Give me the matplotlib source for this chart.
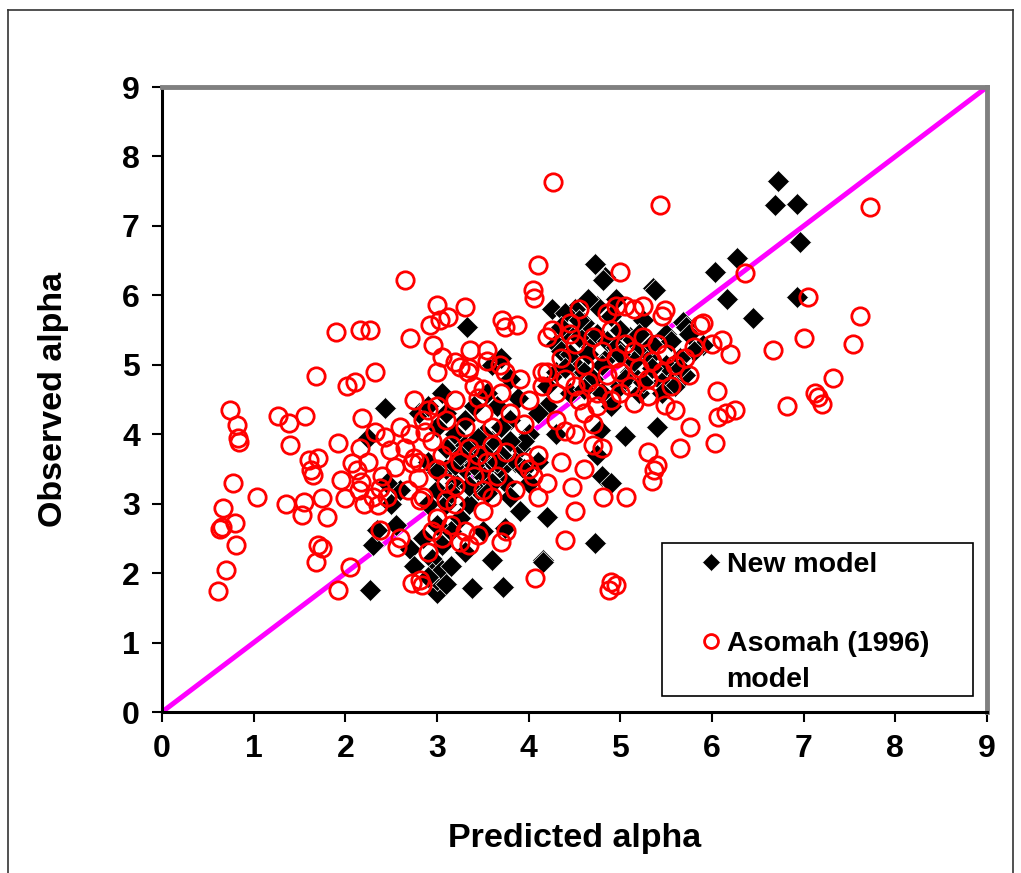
import matplotlib
matplotlib.use("Agg")
import matplotlib.pyplot as plt
from matplotlib.lines import Line2D
from matplotlib.patches import Rectangle

plt.rcParams['font.family'] = ['Liberation Sans', 'DejaVu Sans']
plt.rcParams['font.weight'] = 'bold'

# New model (black diamonds): predicted, observed
new_pred = [6.72, 6.69, 6.93, 6.96, 6.27, 6.03, 6.16, 6.45, 6.93, 5.36, 5.68, 5.72, 5.40, 5.05, 4.83,
            4.72, 4.81, 5.38, 5.90, 5.80, 5.65, 5.55, 5.45, 5.60, 5.70, 5.50, 5.30, 5.20, 5.10, 5.00,
            4.90, 4.75, 4.60, 4.50, 4.40, 4.30, 4.25, 4.35, 4.50, 4.60, 4.70, 4.80, 4.90, 5.00, 5.10,
            5.20, 4.85, 4.65, 4.55, 4.45, 4.30, 4.20, 4.10, 4.20, 4.00, 3.90, 3.85, 3.95, 3.80, 3.88,
            3.70, 3.70, 3.75, 3.80, 3.60, 3.60, 3.50, 3.50, 3.45, 3.40, 3.40, 3.35, 3.30, 3.30, 3.25,
            3.20, 3.20, 3.15, 3.10, 3.10, 3.05, 3.00, 3.00, 2.95, 2.90, 2.90, 2.85, 2.80, 2.90, 3.00,
            3.10, 2.60, 2.50, 2.45, 2.43, 2.25, 2.27, 2.30, 2.35, 2.55, 3.33, 3.05, 3.60, 3.70, 3.80,
            4.20, 4.16, 3.72, 3.38, 3.60, 3.00, 3.00, 2.95, 3.05, 4.72, 4.16, 3.74, 3.50, 3.30, 3.15,
            4.78, 4.75, 4.80, 4.90, 3.90, 4.00, 4.10, 4.30, 5.35, 5.50, 5.25, 4.95, 4.65, 4.40, 3.95,
            3.55, 3.65, 3.20, 2.70, 2.75, 2.90, 3.10,
            4.35, 4.45, 4.55, 4.65, 4.75, 4.85, 4.95, 5.05, 5.15, 5.25, 5.35, 5.45, 5.55, 5.65, 5.75,
            4.40, 4.60, 4.80, 5.00, 5.20, 3.10, 3.20, 3.30, 3.40, 3.50, 3.60, 3.70, 3.80, 3.00, 3.15,
            3.25, 3.35, 3.45, 3.55, 3.65]
new_obs = [7.64, 7.30, 7.31, 6.77, 6.54, 6.34, 5.95, 5.67, 5.97, 6.10, 5.62, 5.55, 4.10, 3.98, 6.26,
           6.45, 6.22, 6.08, 5.29, 5.20, 5.10, 4.90, 4.75, 4.70, 4.85, 5.00, 5.10, 5.25, 5.40, 5.50,
           5.70, 5.85, 5.60, 5.80, 5.50, 5.30, 5.80, 5.20, 5.00, 4.90, 4.80, 4.60, 4.40, 4.70, 4.90,
           4.60, 5.10, 5.30, 5.40, 4.60, 4.90, 4.40, 4.30, 4.70, 4.00, 3.80, 3.60, 3.50, 4.20, 4.52,
           4.10, 3.50, 3.30, 3.10, 3.90, 3.60, 4.00, 3.40, 3.20, 4.40, 3.70, 3.00, 3.50, 4.20, 2.80,
           3.30, 3.90, 2.60, 3.00, 3.50, 2.40, 3.20, 2.70, 2.20, 3.00, 3.60, 2.50, 4.30, 4.40, 4.10,
           4.30, 3.20, 3.00, 3.30, 4.38, 3.95, 1.76, 2.40, 2.62, 2.70, 5.54, 4.60, 5.00, 5.10, 4.80,
           2.81, 2.19, 1.80, 1.79, 2.19, 1.71, 1.90, 2.00, 2.05, 2.43, 2.16, 2.65, 2.60, 2.30, 2.10,
           4.06, 3.70, 3.40, 3.30, 2.90, 3.30, 3.60, 4.00, 5.30, 5.45, 5.65, 5.95, 5.95, 5.75, 3.90,
           4.60, 4.40, 4.00, 2.35, 2.10, 1.95, 1.85,
           5.55, 5.15, 5.65, 5.15, 5.45, 5.35, 5.25, 4.80, 5.05, 4.75, 4.95, 4.60, 5.35, 4.95, 5.45,
           4.95, 4.65, 5.00, 5.15, 5.45, 3.80, 3.55, 3.85, 3.55, 3.75, 3.30, 3.70, 3.90, 3.45, 3.15,
           3.70, 3.25, 3.95, 3.15, 3.60]

# Asomah (1996) model (red open circles): predicted, observed
aso_pred = [0.61, 0.63, 0.65, 0.67, 0.70, 0.74, 0.77, 0.80, 0.81, 0.82, 0.83, 0.84, 1.04, 1.27, 1.39,
            1.35, 1.40, 1.53, 1.55, 1.56, 1.60, 1.63, 1.65, 1.68, 1.70, 1.68, 1.70, 1.74, 1.74, 1.80,
            1.90, 1.92, 1.92, 1.95, 2.00, 2.02, 2.10, 2.05, 2.07, 2.13, 2.16, 2.17, 2.18, 2.16, 2.27,
            2.32, 2.32, 2.36, 2.38, 2.38, 2.43, 2.49, 2.54, 2.60, 2.56, 2.20, 2.25, 2.40, 2.30, 2.15,
            2.45,
            2.65, 2.68, 2.71, 2.73, 2.75, 2.73, 2.79, 2.81, 2.81, 2.84, 2.87, 2.90, 2.92, 2.96, 3.00,
            3.03, 3.05, 3.12, 3.20, 3.25, 3.31, 3.34, 3.36, 3.45, 3.55, 3.69, 3.71, 3.74, 3.74, 3.87,
            4.05, 4.06, 4.10, 4.27, 5.43, 7.72, 5.00,
            2.65, 2.70, 2.80, 2.85, 2.90, 2.95, 3.00, 3.00, 3.05, 3.10, 3.10, 3.15, 3.20, 3.20, 3.25,
            3.30, 3.30, 3.35, 3.40, 3.40, 3.45, 3.50, 3.50, 3.55, 3.60, 3.60, 3.65, 3.70, 3.75, 3.80,
            3.85, 3.90, 3.95, 4.00, 4.05, 4.10, 3.00, 3.05, 3.15, 3.25, 3.35, 3.45, 3.70, 3.75, 2.95,
            3.10, 3.20, 3.50, 3.60, 2.60, 2.75, 3.35, 3.50, 3.55, 3.00, 2.85,
            4.20, 4.25, 4.30, 4.35, 4.40, 4.45, 4.50, 4.50, 4.55, 4.60, 4.65, 4.70, 4.75, 4.80, 4.85,
            4.90, 4.90, 4.95, 5.00, 5.05, 5.10, 5.15, 5.20, 5.25, 5.30, 5.35, 5.40, 5.45, 5.50, 5.55,
            5.60, 5.70, 5.75, 5.80, 5.90, 4.30, 4.40, 4.60, 4.75, 4.85, 4.95, 5.05, 5.15, 5.25, 4.55,
            4.45, 4.20, 4.15, 5.00, 5.30, 5.45,
            7.05, 7.00, 6.67, 7.54, 7.61, 7.32, 7.12, 7.16, 7.20, 6.82, 6.36, 6.11, 6.05, 6.07, 6.03,
            6.15, 6.25, 5.87, 5.76, 5.65, 5.49, 5.49, 5.40, 5.37, 5.35, 5.30, 4.90, 4.88, 4.95, 4.81,
            5.06, 4.47, 4.40, 4.07, 4.50, 4.60, 4.80, 4.70, 5.15, 5.60, 6.00, 6.20, 4.70, 4.50, 4.10,
            4.00, 4.35, 4.20, 4.15, 3.95]
aso_obs = [1.74, 2.63, 2.66, 2.94, 2.05, 4.35, 3.30, 2.72, 2.40, 4.13, 3.95, 3.89, 3.10, 4.26, 4.16,
           3.00, 3.84, 2.84, 3.02, 4.26, 3.63, 3.48, 3.41, 4.84, 3.66, 2.16, 2.40, 2.36, 3.08, 2.81,
           5.47, 1.76, 3.87, 3.34, 3.08, 4.70, 4.75, 2.09, 3.59, 3.48, 5.50, 3.31, 4.23, 3.80, 5.50,
           4.90, 4.03, 2.98, 3.23, 2.62, 3.96, 3.77, 3.53, 2.50, 2.38, 3.00, 3.60, 3.40, 3.10, 3.20,
           3.10,
           6.22, 3.20, 5.39, 3.59, 3.66, 1.86, 3.37, 3.05, 1.90, 1.83, 4.03, 2.30, 5.57, 5.29, 5.86,
           5.65, 5.11, 5.69, 5.04, 4.97, 5.83, 4.90, 5.21, 4.52, 5.21, 5.00, 5.65, 5.54, 4.90, 5.57,
           6.08, 5.96, 6.44, 7.63, 7.30, 7.27, 6.34,
           3.80, 4.00, 3.60, 4.20, 4.35, 3.90, 4.40, 3.50, 3.70, 4.20, 3.30, 3.85, 4.50, 3.00, 3.60,
           4.10, 2.60, 3.80, 3.40, 4.70, 3.70, 3.20, 4.30, 3.60, 3.85, 4.10, 3.40, 4.60, 3.75, 4.30,
           3.20, 4.80, 3.60, 4.50, 3.40, 3.70, 2.80, 2.50, 2.70, 2.45, 2.40, 2.55, 2.45, 2.60, 2.60,
           3.05, 3.25, 2.90, 3.10, 4.10, 4.50, 4.95, 4.65, 5.05, 4.90, 3.10,
           4.90, 5.50, 4.60, 5.10, 4.80, 5.60, 4.70, 5.30, 4.50, 5.00, 4.75, 5.40, 4.60, 5.20, 4.85,
           5.50, 4.50, 5.10, 4.90, 5.30, 4.70, 5.20, 4.95, 5.40, 4.80, 5.05, 5.30, 4.90, 5.15, 4.70,
           5.00, 5.10, 4.85, 5.25, 5.60, 4.20, 4.05, 4.30, 4.40, 5.75, 5.85, 5.85, 5.80, 5.85, 5.80,
           5.45, 5.40, 4.70, 4.60, 4.55, 5.70,
           5.97, 5.38, 5.21, 5.30, 5.70, 4.81, 4.60, 4.53, 4.44, 4.40, 6.32, 5.36, 4.62, 4.25, 3.87,
           4.30, 4.35, 5.57, 4.10, 3.80, 4.42, 5.79, 3.56, 3.48, 3.33, 3.75, 1.87, 1.76, 1.83, 3.10,
           3.10, 3.24, 2.48, 1.93, 2.90, 3.50, 3.80, 4.15, 4.45, 4.35, 5.30, 5.15, 3.85, 4.00, 3.10,
           3.50, 3.60, 3.30, 4.90, 4.15]

line_x = [0, 9]
line_y = [0, 9]
ticks = list(range(0, 10))

fig = plt.figure(figsize=(10.21, 8.73), dpi=100)
ax = fig.add_axes([0.1587, 0.1844, 0.808, 0.7159])

ax.plot(line_x, line_y, color='#ff00ff', lw=3.6, zorder=1, solid_capstyle='butt')
ax.plot(new_pred, new_obs, linestyle='none', marker='D', markersize=11,
        color='black', markeredgecolor='white', markeredgewidth=0.5, zorder=2, label='New model')
ax.plot(aso_pred, aso_obs, linestyle='none', marker='o', markersize=12.5,
        markerfacecolor='none', markeredgecolor='#ff0000', markeredgewidth=2.0, zorder=3,
        label='Asomah (1996)')

ax.set_xlim(0, 9)
ax.set_ylim(0, 9)
ax.set_xticks(ticks)
ax.set_yticks(ticks)
ax.tick_params(direction='out', length=7, width=1.5, labelsize=23, pad=9)
for lab in ax.get_xticklabels() + ax.get_yticklabels():
    lab.set_fontweight('bold')

ax.spines['left'].set_color('black')
ax.spines['left'].set_linewidth(2.2)
ax.spines['bottom'].set_color('black')
ax.spines['bottom'].set_linewidth(2.2)
ax.spines['top'].set_color('#808080')
ax.spines['top'].set_linewidth(3.5)
ax.spines['right'].set_color('#808080')
ax.spines['right'].set_linewidth(3.5)

ax.set_xlabel('Predicted alpha', fontsize=24.5, fontweight='bold', labelpad=42)
ax.set_ylabel('Observed alpha', fontsize=24.5, fontweight='bold', labelpad=38)

# legend box
box = Rectangle((0.606, 0.0256), 0.377, 0.245, transform=ax.transAxes, facecolor='white',
                edgecolor='black', lw=1.2, zorder=4)
ax.add_patch(box)
leg = ax.legend(loc='upper left', bbox_to_anchor=(0.655, 0.256),
                frameon=False, fontsize=20.5, markerscale=0.8, handlelength=0.6,
                handletextpad=0.25, labelspacing=1.85, borderpad=0, borderaxespad=0)
leg.set_zorder(5)
for t in leg.get_texts():
    t.set_fontweight('bold')
ax.text(0.684, 0.052, 'model', transform=ax.transAxes, fontsize=20.5, fontweight='bold',
        ha='left', va='center', zorder=6)

# thin outer figure border
fig.add_artist(Line2D([8/1021, 8/1021], [0, 1 - 10/873], transform=fig.transFigure, color='#333333', lw=1.2))
fig.add_artist(Line2D([8/1021, 1013/1021], [1 - 10/873, 1 - 10/873], transform=fig.transFigure, color='#333333', lw=1.2))
fig.add_artist(Line2D([1013/1021, 1013/1021], [0, 1 - 10/873], transform=fig.transFigure, color='#333333', lw=1.2))

fig.savefig('out.png', dpi=100)
